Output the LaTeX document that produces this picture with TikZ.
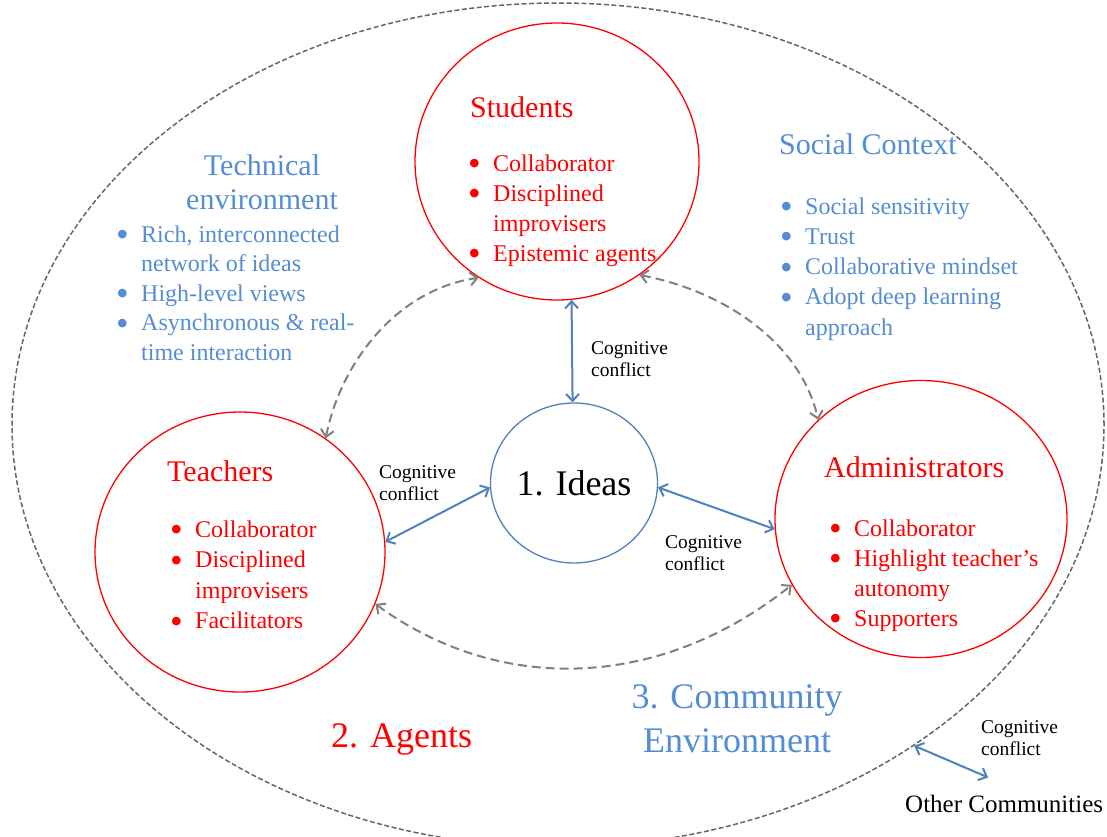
\documentclass[tikz,border=0pt]{standalone}
\usepackage{fontspec}
\setmainfont{Liberation Serif}
\usetikzlibrary{shapes.geometric,arrows.meta}
\definecolor{txtblue}{RGB}{84,141,212}
\definecolor{arrblue}{RGB}{79,129,189}
\tikzstyle{community}=[ellipse,draw=black!60,line width=1.5pt,dash pattern=on 5pt off 2.5pt,minimum width=1092pt,minimum height=844pt,inner sep=0pt]
\tikzstyle{agent}=[ellipse,draw=red,line width=1.3pt,inner sep=0pt]
\tikzstyle{idea}=[ellipse,draw=arrblue,line width=1.3pt,inner sep=0pt,minimum width=167pt,minimum height=160pt,font=\fontsize{36}{40}\selectfont]
\tikzstyle{head}=[anchor=base west,inner sep=0pt,font=\fontsize{30}{34}\selectfont]
\tikzstyle{items}=[anchor=north west,inner sep=0pt,align=left]
\tikzstyle{cctext}=[anchor=north west,inner sep=0pt,align=left,font=\fontsize{19.5}{22}\selectfont]
\tikzstyle{big}=[inner sep=0pt,font=\fontsize{36}{44}\selectfont]
\tikzstyle{conflict}=[draw,arrblue,line width=2pt,<->,>={Straight Barb[length=7pt,width=13pt]}]
\tikzstyle{link}=[draw,black!50,line width=2pt,dash pattern=on 9pt off 5pt,<->,>={Straight Barb[length=7pt,width=13pt]}]
\newcommand{\bul}{\strut\makebox[25pt][l]{\raisebox{-4.5pt}{\scalebox{1.5}{\textbullet}}}}
\newcommand{\nob}{\strut\hspace*{25pt}}

\begin{document}
\begin{tikzpicture}[x=1pt,y=-1pt]
\useasboundingbox (0,0) rectangle (1107,836);

% community border
\node[community] (outer) at (558,425) {};

% the three agents and the ideas
\foreach \pos/\name/\w/\h in {{(557,161.5)/stu/284/277},{(240,552)/tea/290/280},{(921,519)/adm/292/277}}
    \node[agent,minimum width=\w pt,minimum height=\h pt] (\name) at \pos {};

\node[idea] (ide) at (574,483) {1. Ideas};

% headings
\node[head,red] (stuhead) at (470,117) {Students};
\node[head,red] (teahead) at (167,481) {Teachers};
\node[head,red] (admhead) at (824,477) {Administrators};
\node[head,txtblue] (sochead) at (779,154) {Social Context};
\node[head,txtblue,anchor=north,align=center] (techhead) at (262,151.2) {\strut Technical\\environment};

% bullet lists
\node[items,red,font=\fontsize{24}{30}\selectfont] (stulist) at (468,150)
    {\bul Collaborator\\\bul Disciplined\\\nob improvisers\\\bul Epistemic agents};
\node[items,red,font=\fontsize{24}{30.5}\selectfont] (tealist) at (170,515.6)
    {\bul Collaborator\\\bul Disciplined\\\nob improvisers\\\bul Facilitators};
\node[items,red,font=\fontsize{24}{30}\selectfont] (admlist) at (829,515)
    {\bul Collaborator\\\bul Highlight teacher’s\\\nob autonomy\\\bul Supporters};
\node[items,txtblue,font=\fontsize{24}{30.25}\selectfont] (soclist) at (780,192.8)
    {\bul Social sensitivity\\\bul Trust\\\bul Collaborative mindset\\\bul Adopt deep learning\\\nob approach};
\node[items,txtblue,font=\fontsize{24}{29.5}\selectfont] (techlist) at (116,221.4)
    {\bul Rich, interconnected\\\nob network of ideas\\\bul High-level views\\\bul Asynchronous \& real-\\\nob time interaction};

% level titles
\node[big,red,anchor=base west] (agt) at (331,747) {2. Agents};
\node[big,txtblue,anchor=north,align=center] (com) at (737,677.2) {\strut 3. Community\\Environment};
\node[anchor=base west,inner sep=0pt,font=\fontsize{25}{30}\selectfont] (oth) at (905,812) {Other Communities};

% cognitive conflict arrows
\foreach \source/ \dest in {stu.-84/ide.91, tea.4/ide.183, ide.-3/adm.184}
    \path[conflict] (\source) -- (\dest);
\path[conflict] (outer.-42) -- ([xshift=-16pt,yshift=17pt]oth.north);

\node[cctext] (cc1) at (591,338.6) {\strut Cognitive\\conflict};
\node[cctext] (cc2) at (379,462.6) {\strut Cognitive\\conflict};
\node[cctext] (cc3) at (665,532.6) {\strut Cognitive\\conflict};
\node[cctext] (cc4) at (981,717.6) {\strut Cognitive\\conflict};

% links between agents
\draw[link] (tea.53) .. controls (340,365) and (395,290) .. (stu.236);
\draw[link] (stu.-54) .. controls (720,290) and (800,340) .. (adm.136);
\draw[link] (tea.-21) .. controls (500,695) and (660,690) .. (adm.207);

\end{tikzpicture}
\end{document}
